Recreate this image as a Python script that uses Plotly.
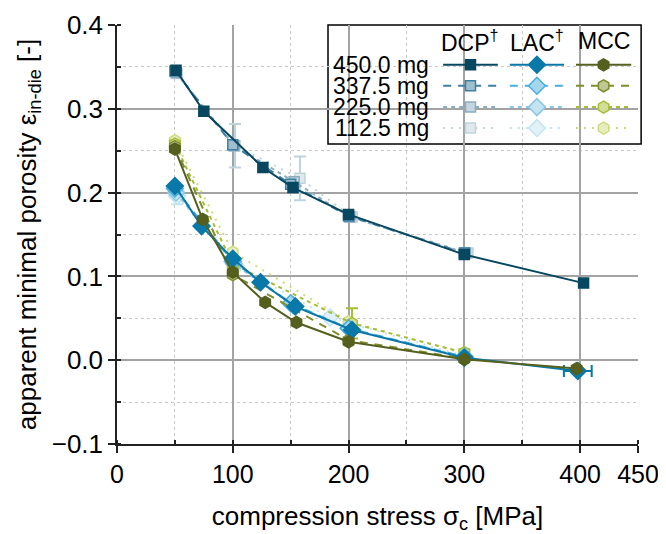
import plotly.graph_objects as go

# ---------------- data ----------------
masses = ["450.0 mg", "337.5 mg", "225.0 mg", "112.5 mg"]
materials = ["DCP<sup>†</sup>", "LAC<sup>†</sup>", "MCC"]

dcp_450_x = [51, 75, 126, 152, 200, 300, 403]
dcp_450_y = [0.346, 0.297, 0.230, 0.206, 0.174, 0.126, 0.092]
dcp_3375_x = [50, 100, 150, 200, 300]
dcp_3375_y = [0.345, 0.257, 0.210, 0.172, 0.128]
dcp_225_x = [51, 101, 153, 201, 301]
dcp_225_y = [0.343, 0.256, 0.213, 0.171, 0.128]
dcp_1125_x = [52, 102, 158, 203, 303]
dcp_1125_y = [0.342, 0.256, 0.217, 0.171, 0.128]
dcp_1125_err = [0.004, 0.026, 0.026, 0.004, 0.004]

lac_450_x = [50, 73, 100, 124, 154, 203, 300, 398]
lac_450_y = [0.208, 0.160, 0.121, 0.093, 0.064, 0.036, 0.003, -0.013]
lac_450_xerr = [1, 1, 1, 1, 2, 2, 3, 12]
lac_3375_x = [50, 100, 150, 200, 300]
lac_3375_y = [0.205, 0.118, 0.068, 0.038, 0.004]
lac_225_x = [51, 101, 152, 201, 300]
lac_225_y = [0.200, 0.115, 0.066, 0.037, 0.004]
lac_1125_x = [52, 102, 184, 300]
lac_1125_y = [0.196, 0.113, 0.051, 0.005]
lac_1125_err = [0.010, 0.006, 0.004, 0.004]

mcc_450_x = [50, 74, 100, 128, 155, 200, 300, 397]
mcc_450_y = [0.252, 0.168, 0.105, 0.069, 0.045, 0.022, 0.001, -0.010]
mcc_3375_x = [50, 100, 200, 300]
mcc_3375_y = [0.255, 0.102, 0.024, 0.002]
mcc_225_x = [50, 100, 203, 300]
mcc_225_y = [0.258, 0.115, 0.044, 0.009]
mcc_225_err = [0.004, 0.004, 0.018, 0.004]
mcc_1125_x = [50, 100, 200, 300]
mcc_1125_y = [0.262, 0.129, 0.046, 0.008]

x_ticks = [0, 100, 200, 300, 400, 450]
y_ticks = [-0.1, 0.0, 0.1, 0.2, 0.3, 0.4]

# ---------------- styles ----------------
colors = {
    "DCP": ["#07475f", "#3f80a0", "#8aadbf", "#bfd3dc"],
    "LAC": ["#0a78a8", "#4aaede", "#8ac8e6", "#c4e3f2"],
    "MCC": ["#555f1e", "#7e8f2c", "#a7be34", "#cfdc7e"],
}
symbols = {"DCP": "square", "LAC": "diamond", "MCC": "hexagon"}
msizes = {"DCP": 10, "LAC": 13, "MCC": 12}
dashes = ["solid", "8px,7px", "4px,4px", "2px,6px"]


def blend(hexc, f):
    hexc = hexc.lstrip("#")
    r, g, b = (int(hexc[i:i + 2], 16) for i in (0, 2, 4))
    r = int(r + (255 - r) * f)
    g = int(g + (255 - g) * f)
    b = int(b + (255 - b) * f)
    return f"rgb({r},{g},{b})"


def fillcol(mat, i):
    c = colors[mat][i]
    return c if i == 0 else blend(c, 0.5)


series = [
    ("DCP", 0, dcp_450_x, dcp_450_y, None, None),
    ("DCP", 1, dcp_3375_x, dcp_3375_y, None, None),
    ("DCP", 2, dcp_225_x, dcp_225_y, None, None),
    ("DCP", 3, dcp_1125_x, dcp_1125_y, dcp_1125_err, None),
    ("LAC", 0, lac_450_x, lac_450_y, None, lac_450_xerr),
    ("LAC", 1, lac_3375_x, lac_3375_y, None, None),
    ("LAC", 2, lac_225_x, lac_225_y, None, None),
    ("LAC", 3, lac_1125_x, lac_1125_y, lac_1125_err, None),
    ("MCC", 0, mcc_450_x, mcc_450_y, None, None),
    ("MCC", 1, mcc_3375_x, mcc_3375_y, None, None),
    ("MCC", 2, mcc_225_x, mcc_225_y, mcc_225_err, None),
    ("MCC", 3, mcc_1125_x, mcc_1125_y, None, None),
]

fig = go.Figure()

# draw lighter series first so the 450 mg series sits on top
order = sorted(series, key=lambda s: -s[1])
for mat, i, xs, ys, yerr, xerr in order:
    c = colors[mat][i]
    tr = go.Scatter(
        x=xs, y=ys, mode="lines+markers", showlegend=False,
        line=dict(color=c, width=2, dash=dashes[i]),
        marker=dict(symbol=symbols[mat], size=msizes[mat], color=fillcol(mat, i),
                    line=dict(color=c, width=1.5)),
    )
    if yerr is not None:
        tr.error_y = dict(type="data", array=yerr, visible=True, color=c, thickness=2, width=6)
    if xerr is not None:
        tr.error_x = dict(type="data", array=xerr, visible=True, color=c, thickness=2, width=6)
    fig.add_trace(tr)

# ---------------- custom legend (helper axes in paper units) ----------------
row_y = [0.905, 0.855, 0.804, 0.754]
col_lines = [(0.626, 0.731), (0.754, 0.858), (0.881, 0.987)]
mat_keys = ["DCP", "LAC", "MCC"]
for j, mat in enumerate(mat_keys):
    x0, x1 = col_lines[j]
    for i in range(4):
        c = colors[mat][i]
        fig.add_trace(go.Scatter(
            x=[x0, x1], y=[row_y[i], row_y[i]], mode="lines", showlegend=False,
            xaxis="x2", yaxis="y2", hoverinfo="skip",
            line=dict(color=c, width=2, dash=dashes[i]),
        ))
        fig.add_trace(go.Scatter(
            x=[(x0 + x1) / 2], y=[row_y[i]], mode="markers", showlegend=False,
            xaxis="x2", yaxis="y2", hoverinfo="skip",
            marker=dict(symbol=symbols[mat], size=msizes[mat], color=fillcol(mat, i),
                        line=dict(color=c, width=1.5)),
        ))
    fig.add_annotation(x=(x0 + x1) / 2, y=0.962, xref="paper", yref="paper",
                       text=materials[j], showarrow=False, xanchor="center", yanchor="middle",
                       font=dict(size=23, color="black"))
for i, m in enumerate(masses):
    fig.add_annotation(x=0.602, y=row_y[i], xref="paper", yref="paper", text=m,
                       showarrow=False, xanchor="right", yanchor="middle",
                       font=dict(size=23, color="black"))

fig.add_shape(type="rect", xref="paper", yref="paper", x0=0.405, x1=1.006, y0=0.716, y1=1.0,
              line=dict(color="black", width=1.5), fillcolor="white", layer="between")

font_family = "Liberation Sans, Arial, sans-serif"
fig.update_layout(
    width=666, height=534,
    margin=dict(l=109, r=36, t=17, b=98),
    paper_bgcolor="white", plot_bgcolor="white",
    font=dict(family=font_family, color="black", size=24),
    showlegend=False,
    xaxis=dict(
        range=[0, 450], tickvals=x_ticks, ticktext=[str(v) for v in x_ticks],
        showline=True, linecolor="#222", linewidth=1.5,
        ticks="outside", ticklen=7, tickwidth=1.5, tickcolor="#222",
        tickfont=dict(size=25),
        showgrid=True, gridcolor="#a3a3a3", gridwidth=1.5, zeroline=False,
        minor=dict(dtick=50, tick0=0, showgrid=True, gridcolor="#c8c8c8", griddash="dot",
                   gridwidth=1, ticks="inside", ticklen=4, tickcolor="#222"),
        title=dict(text="compression stress σ<sub>c</sub> [MPa]", font=dict(size=26), standoff=20),
        automargin=False,
    ),
    yaxis=dict(
        range=[-0.1, 0.4], tickvals=y_ticks, tickformat=".1f",
        showline=True, linecolor="#222", linewidth=1.5,
        ticks="outside", ticklen=7, tickwidth=1.5, tickcolor="#222",
        tickfont=dict(size=26),
        showgrid=True, gridcolor="#a3a3a3", gridwidth=1.5, zeroline=False,
        minor=dict(dtick=0.05, tick0=0, showgrid=True, gridcolor="#c8c8c8", griddash="dot",
                   gridwidth=1, ticks="inside", ticklen=4, tickcolor="#222"),
        title=dict(text="apparent minimal porosity ε<sub>in-die</sub> [-]", font=dict(size=26), standoff=8),
        automargin=False,
    ),
    xaxis2=dict(range=[0, 1], overlaying="x", visible=False, anchor="y2", fixedrange=True),
    yaxis2=dict(range=[0, 1], overlaying="y", visible=False, anchor="x2", fixedrange=True),
)

fig.write_html("out.html")
